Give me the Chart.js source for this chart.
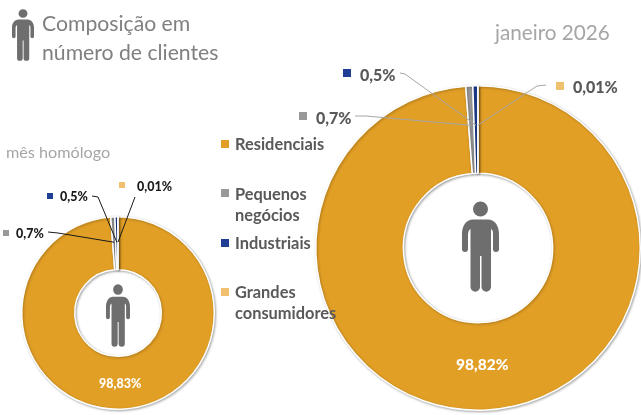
<!DOCTYPE html>
<html lang="pt">
<head>
<meta charset="utf-8">
<script src="https://cdn.jsdelivr.net/npm/chart.js@4"></script>
<style>
html,body{margin:0;padding:0;background:#fff;width:641px;height:415px;overflow:hidden}
canvas{position:absolute;left:0;top:0}
.t{position:absolute;font-family:Lato,sans-serif;white-space:nowrap;line-height:1;transform:translateY(-50%)}
.m{position:absolute}
svg{position:absolute;fill:#6e6e6e}
</style>
</head>
<body>
<canvas id="big" width="641" height="415"></canvas>
<canvas id="small" width="641" height="415"></canvas>
<script>
const categories = ["Residenciais", "Pequenos negócios", "Industriais", "Grandes consumidores"];
const valuesCurrent = [98.82, 0.7, 0.5, 0.01];
const valuesPrevious = [98.83, 0.7, 0.5, 0.01];
const labelsCurrent = ["98,82%", "0,7%", "0,5%", "0,01%"];
const labelsPrevious = ["98,83%", "0,7%", "0,5%", "0,01%"];
const colors = ["#E29F26", "#999999", "#1F3F94", "#F0C070"];

function doughnut(id, values, cutout, padding, leaders, lineColor) {
  new Chart(document.getElementById(id), {
    type: "doughnut",
    data: { labels: categories, datasets: [{ data: values, backgroundColor: colors, borderColor: "#fff", borderWidth: 1.5 }] },
    options: {
      responsive: false, animation: false, cutout: cutout, layout: { padding: padding },
      plugins: { legend: { display: false }, tooltip: { enabled: false } }
    },
    plugins: [{
      id: "ringShadow",
      beforeDatasetDraw(c) { const x = c.ctx; x.save(); x.shadowColor = "rgba(0,0,0,.3)"; x.shadowBlur = 2.5; x.shadowOffsetX = 1; x.shadowOffsetY = 1; },
      afterDatasetDraw(c) { c.ctx.restore(); }
    }, {
      id: "leaders",
      afterDraw(c) {
        const x = c.ctx, arcs = c.getDatasetMeta(0).data;
        x.save(); x.strokeStyle = lineColor; x.lineWidth = 1;
        leaders.forEach(l => {
          const a = arcs[l.i], mid = (a.startAngle + a.endAngle) / 2;
          const r = a.innerRadius + (a.outerRadius - a.innerRadius) * l.f;
          x.beginPath();
          l.pts.forEach((p, k) => k ? x.lineTo(p[0], p[1]) : x.moveTo(p[0], p[1]));
          x.lineTo(a.x + Math.cos(mid) * r, a.y + Math.sin(mid) * r);
          x.stroke();
        });
        x.restore();
      }
    }]
  });
}

doughnut("big", valuesCurrent, "46%", { left: 315, right: 0, top: 85, bottom: 4 }, [
  { i: 1, f: .55, pts: [[355, 116], [366, 116]] },
  { i: 2, f: .55, pts: [[400, 73], [405, 74]] },
  { i: 3, f: .55, pts: [[546, 85], [537, 86]] }
], "#A6A6A6");
doughnut("small", valuesPrevious, "45%", { left: 20.5, right: 425.5, top: 216, bottom: 5 }, [
  { i: 1, f: .52, pts: [[48, 232], [58, 233]] },
  { i: 2, f: .52, pts: [[92, 196], [98, 197]] },
  { i: 3, f: .52, pts: [[135, 197]] }
], "#1a1a1a");

function text(s, x, y, size, color, weight) {
  const e = document.createElement("div");
  e.className = "t"; e.textContent = s;
  e.style.cssText = `left:${x}px;top:${y}px;font-size:${size}px;color:${color};font-weight:${weight || 400}`;
  document.body.appendChild(e); return e;
}
function mark(x, y, s, color) {
  const e = document.createElement("div");
  e.className = "m";
  e.style.cssText = `left:${x}px;top:${y}px;width:${s}px;height:${s}px;background:${color}`;
  document.body.appendChild(e);
}
function person(x, y, w, h) {
  const ns = "http://www.w3.org/2000/svg", s = document.createElementNS(ns, "svg");
  s.setAttribute("viewBox", "0 0 37 91");
  s.setAttribute("preserveAspectRatio", "none");
  s.style.cssText = `left:${x}px;top:${y}px;width:${w}px;height:${h}px`;
  s.innerHTML = '<circle cx="18.5" cy="8" r="7.5"/><path d="M11 18.5H26C33 18.5 37 25 37 33V48a3 3 0 0 1-6 0V33C31 30 30.5 29 29 28V86a4.5 4.5 0 0 1-9.5 0V55H18V86a4.5 4.5 0 0 1-9.5 0V28C7 29 6.5 30 6 33V48a3 3 0 0 1-6 0V33C0 25 4 18.5 11 18.5Z"/>';
  document.body.appendChild(s);
}

// Title and captions
text("Composição em", 42, 24, 21.2, "#808080");
text("número de clientes", 42, 52.5, 21.2, "#808080");
text("janeiro 2026", 495, 32, 20.7, "#A6A6A6");
text("mês homólogo", 6, 152, 16.2, "#A6A6A6");

// Legend
const legendY = [144, 193, 243, 292];
mark(221, legendY[0] - 4, 8, colors[0]); text("Residenciais", 235, 144, 16.4, "#595959", 700);
mark(221, legendY[1] - 4, 8, colors[1]); text("Pequenos", 235, 193.5, 16.4, "#595959", 700); text("negócios", 235, 214.5, 16.4, "#595959", 700);
mark(221, legendY[2] - 4, 8, colors[2]); text("Industriais", 235, 243, 16.4, "#595959", 700);
mark(221, legendY[3] - 4, 8, colors[3]); text("Grandes", 235, 292, 16.4, "#595959", 700); text("consumidores", 235, 313, 16.4, "#595959", 700);

// Current-month labels
text(labelsCurrent[0], 456, 365, 15.5, "#fff", 900);
mark(299, 112, 8, colors[1]); text(labelsCurrent[1], 316, 118, 16, "#595959", 900);
mark(343, 69, 8, colors[2]); text(labelsCurrent[2], 360, 75, 16, "#595959", 900);
mark(556, 82, 8, colors[3]); text(labelsCurrent[3], 573, 87, 16, "#595959", 900);

// Previous-period labels
text(labelsPrevious[0], 99, 384, 12.5, "#fff", 900);
mark(3, 230, 6, colors[1]); text(labelsPrevious[1], 16, 234, 12.5, "#1a1a1a", 900);
mark(47, 193, 6, colors[2]); text(labelsPrevious[2], 60, 197, 12.5, "#1a1a1a", 900);
mark(119, 182, 6, colors[3]); text(labelsPrevious[3], 137, 187, 12.5, "#1a1a1a", 900);

// Person icons
person(12, 9, 22, 52);
person(462, 201, 37, 91);
person(106, 284, 24, 63);
</script>
</body>
</html>
